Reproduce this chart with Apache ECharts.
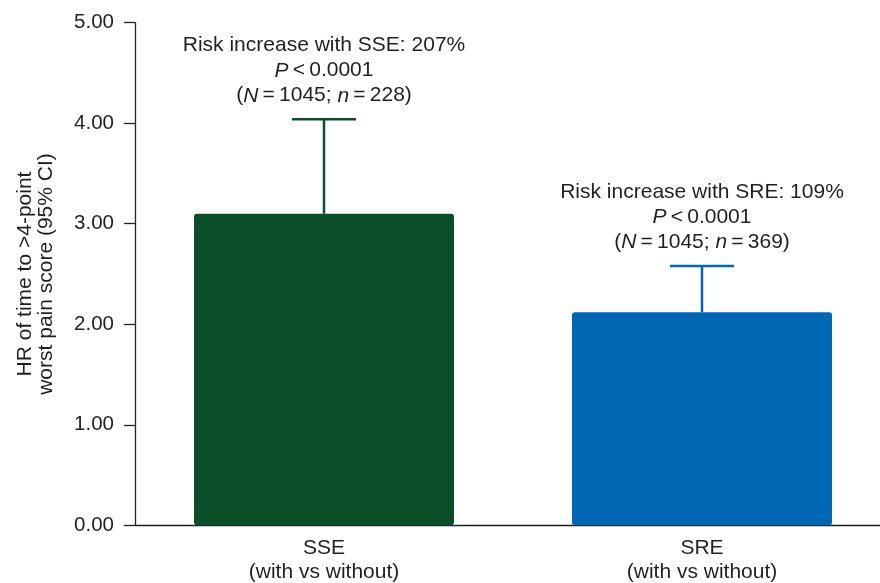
<!DOCTYPE html>
<html>
<head>
<meta charset="utf-8">
<script src="https://cdn.jsdelivr.net/npm/echarts@6/dist/echarts.min.js"></script>
<style>
html,body{margin:0;padding:0;background:#fff;}
#chart{width:880px;height:583px;}
</style>
</head>
<body>
<div id="chart"></div>
<script>
// Data
var categories = ['SSE\n(with vs without)', 'SRE\n(with vs without)'];
var groupNames = ['SSE', 'SRE'];
var hrValues = [3.10, 2.12];
var upperCI = [4.04, 2.58];
var riskIncrease = ['207%', '109%'];
var pValues = ['0.0001', '0.0001'];
var totalN = [1045, 1045];
var eventN = [228, 369];
var barColors = ['#0a4f28', '#0067b4'];
var yTicks = [0, 1, 2, 3, 4, 5];

var FONT = '"Liberation Sans", Arial, Helvetica, sans-serif';
var TXT = '#231f20';
var FS = 21;

var chart = echarts.init(document.getElementById('chart'));

var errData = hrValues.map(function (v, i) { return [i, v, upperCI[i]]; });

chart.setOption({
  animation: false,
  backgroundColor: '#fff',
  grid: { left: 135, width: 756, top: 22.7, height: 502.6, containLabel: false, outerBoundsMode: 'none' },
  xAxis: {
    type: 'category',
    data: categories,
    axisLine: { lineStyle: { color: '#231f20', width: 1.3 } },
    axisTick: { show: false },
    axisLabel: {
      color: TXT, fontFamily: FONT, fontSize: FS, lineHeight: 24, margin: 11
    }
  },
  yAxis: {
    type: 'value',
    min: yTicks[0],
    max: yTicks[yTicks.length - 1],
    interval: 1,
    splitLine: { show: false },
    axisLine: { show: true, lineStyle: { color: '#231f20', width: 1.3 } },
    axisTick: { show: true, length: 11, lineStyle: { color: '#231f20', width: 1.3 } },
    axisLabel: {
      color: TXT, fontFamily: FONT, fontSize: 20.5, margin: 21,
      formatter: function (v) { return v.toFixed(2); }
    },
    name: 'HR of time to >4-point\nworst pain score (95% CI)',
    nameLocation: 'middle',
    nameGap: 78,
    nameTextStyle: { color: TXT, fontFamily: FONT, fontSize: FS, lineHeight: 21 }
  },
  series: [
    {
      type: 'bar',
      data: hrValues.map(function (v, i) {
        return { value: v, itemStyle: { color: barColors[i] } };
      }),
      barWidth: 260,
      itemStyle: { borderRadius: 3 }
    },
    {
      type: 'custom',
      data: errData,
      z: 5,
      renderItem: function (params, api) {
        var i = api.value(0);
        var base = api.coord([i, api.value(1)]);
        var top = api.coord([i, api.value(2)]);
        var color = barColors[params.dataIndex];
        var capHalf = 32;
        var ls = { stroke: color, lineWidth: 2.5 };
        var di = params.dataIndex;
        var txt = 'Risk increase with ' + groupNames[di] + ': ' + riskIncrease[di] + '\n' +
          '{i|P}\u2009<\u2009' + pValues[di] + '\n' +
          '({i|N}\u2009=\u2009' + totalN[di] + '; {i|n}\u2009=\u2009' + eventN[di] + ')';
        return {
          type: 'group',
          children: [
            { type: 'line', shape: { x1: top[0], y1: base[1], x2: top[0], y2: top[1] }, style: ls },
            { type: 'line', shape: { x1: top[0] - capHalf, y1: top[1], x2: top[0] + capHalf, y2: top[1] }, style: ls },
            {
              type: 'text',
              style: {
                text: txt,
                x: top[0],
                y: top[1] - 11,
                align: 'center',
                verticalAlign: 'bottom',
                fill: TXT,
                fontFamily: FONT,
                fontSize: FS,
                lineHeight: 25,
                rich: {
                  i: { fontStyle: 'italic', fontFamily: FONT, fontSize: FS, lineHeight: 25, fill: TXT }
                }
              }
            }
          ]
        };
      }
    }
  ]
});
</script>
</body>
</html>
